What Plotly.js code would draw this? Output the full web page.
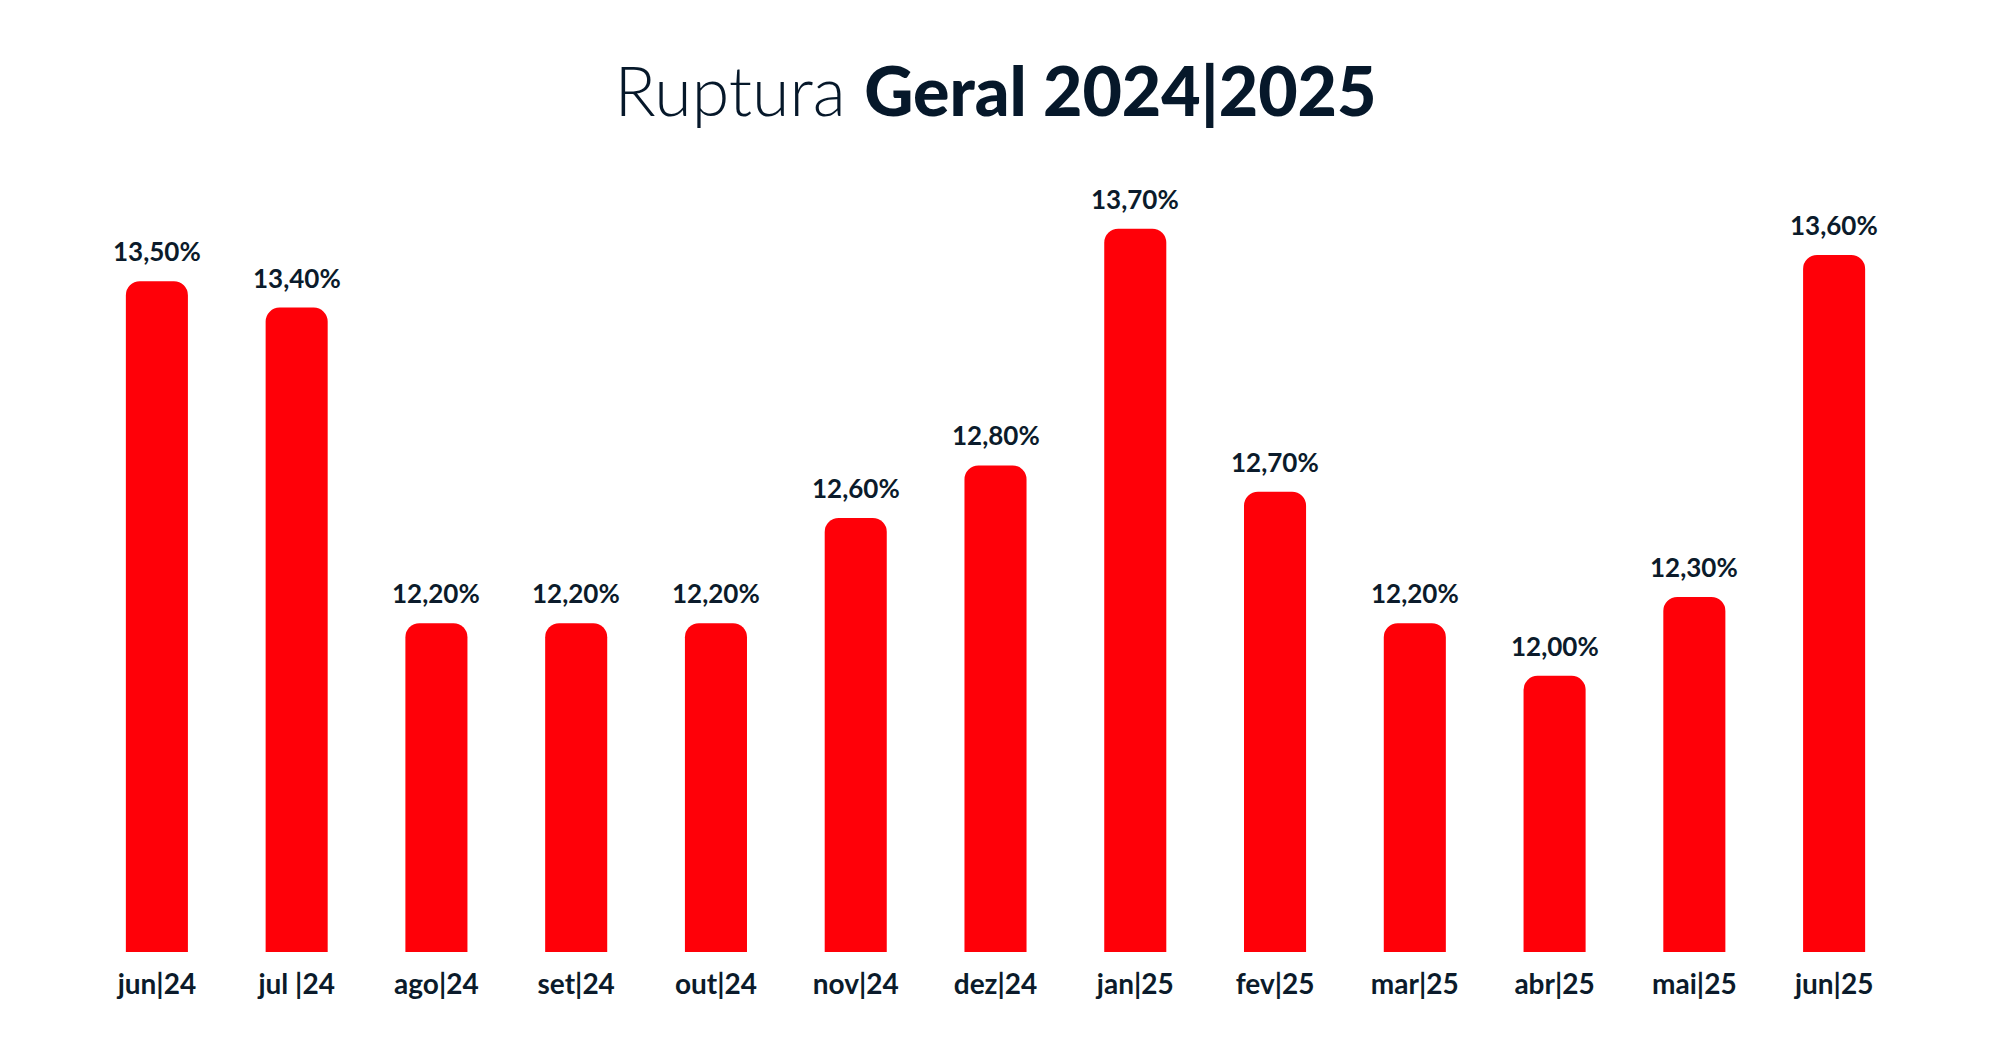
<!DOCTYPE html>
<html>
<head>
<meta charset="utf-8">
<script src="https://cdn.plot.ly/plotly-3.0.1.min.js"></script>
<style>html,body{margin:0;padding:0;background:#fff;}#chart{width:2000px;height:1060px;}</style>
</head>
<body>
<div id="chart"></div>
<script>
const months = ["jun|24","jul |24","ago|24","set|24","out|24","nov|24","dez|24","jan|25","fev|25","mar|25","abr|25","mai|25","jun|25"];
const ruptura = [13.5, 13.4, 12.2, 12.2, 12.2, 12.6, 12.8, 13.7, 12.7, 12.2, 12.0, 12.3, 13.6];

const dark = "#0b1b2b";
const trace = {
  type: "bar",
  x: months,
  y: ruptura,
  marker: {color: "#ff0008", cornerradius: 14},
  hoverinfo: "skip"
};

const labels = months.map((m, i) => ({
  x: m, y: ruptura[i], xref: "x", yref: "y",
  text: ruptura[i].toFixed(2).replace(".", ",") + "%",
  showarrow: false, yanchor: "bottom", xanchor: "center", yshift: 12,
  font: {family: "Lato, sans-serif", size: 26, color: dark, weight: 700}
}));

const layout = {
  width: 2000, height: 1060,
  paper_bgcolor: "#ffffff", plot_bgcolor: "#ffffff",
  separators: ",.",
  margin: {l: 87, r: 96, t: 160, b: 108},
  bargap: 0.556,
  showlegend: false,
  annotations: labels,
  title: {
    text: "Ruptura <span style=\"font-weight:900\">Geral 2024|2025</span>",
    font: {family: "Lato, sans-serif", size: 68, color: "#06182a", weight: 300},
    x: 0.5, xanchor: "center", xref: "paper",
    y: 0.913, yanchor: "middle", yref: "container"
  },
  xaxis: {
    type: "category",
    showgrid: false, zeroline: false, showline: false, ticks: "",
    tickfont: {family: "Lato, sans-serif", size: 28, color: dark, weight: 700},
    ticklabelstandoff: 13
  },
  yaxis: {
    range: [10.95, 13.961],
    visible: false, showgrid: false, zeroline: false
  }
};

Plotly.newPlot("chart", [trace], layout, {displayModeBar: false, staticPlot: true});
</script>
</body>
</html>
